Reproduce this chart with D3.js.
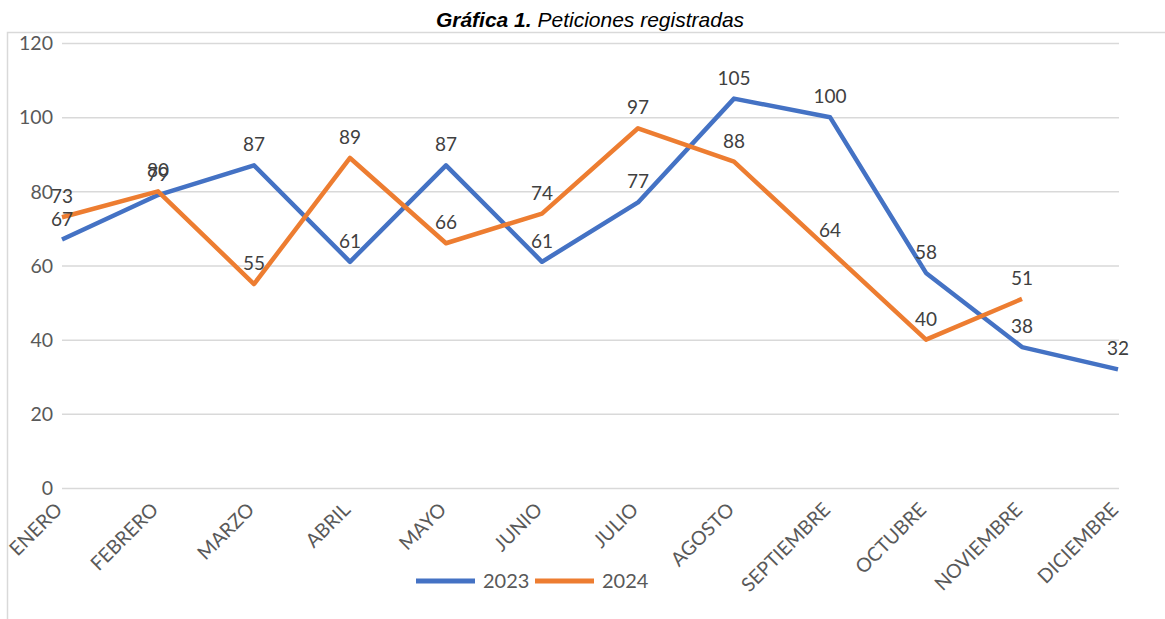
<!DOCTYPE html>
<html lang="es">
<head>
  <meta charset="UTF-8">
  <title>Gráfica 1. Peticiones registradas</title>
  <script src="https://d3js.org/d3.v7.min.js"></script>
  <style>
    body { margin: 0; background: #fff; }
    .grid line { stroke: #d9d9d9; stroke-width: 1.5; }
    .grid .domain { display: none; }
    .axis text { fill: #595959; font-family: Lato, "Liberation Sans", sans-serif; font-size: 19.5px; }
    .axis .domain, .axis line { display: none; }
    .line { fill: none; stroke-width: 4.5; stroke-linejoin: round; }
    .lbl { fill: #404040; font-family: Lato, sans-serif; font-size: 19px; text-anchor: middle; }
  </style>
</head>
<body>
  <svg width="1165" height="619"></svg>
  <script>
    const months = ['ENERO', 'FEBRERO', 'MARZO', 'ABRIL', 'MAYO', 'JUNIO', 'JULIO',
      'AGOSTO', 'SEPTIEMBRE', 'OCTUBRE', 'NOVIEMBRE', 'DICIEMBRE'];
    const v2023 = [67, 79, 87, 61, 87, 61, 77, 105, 100, 58, 38, 32];
    const v2024 = [73, 80, 55, 89, 66, 74, 97, 88, 64, 40, 51];
    const yTicks = [0, 20, 40, 60, 80, 100, 120];

    const series = [
      { name: '2023', color: '#4472C4', values: v2023 },
      { name: '2024', color: '#ED7D31', values: v2024 }
    ];

    const svg = d3.select('svg');

    // chart frame
    svg.append('path')
      .attr('d', 'M7.5,640 V32.5 H1170')
      .attr('fill', 'none')
      .attr('stroke', '#d9d9d9')
      .attr('stroke-width', 1.5);

    // title
    const title = svg.append('text')
      .attr('x', 590).attr('y', 27)
      .attr('text-anchor', 'middle')
      .style('font-family', '"Liberation Sans", Arial, sans-serif')
      .style('font-size', '21px')
      .style('font-style', 'italic');
    title.append('tspan').style('font-weight', 'bold').text('Gráfica 1.');
    title.append('tspan').text(' Peticiones registradas');

    const x = d3.scalePoint().domain(months).range([62, 1118]);
    const y = d3.scaleLinear().domain([0, 120]).range([488, 43]);

    // grid lines
    svg.append('g')
      .attr('class', 'grid')
      .attr('transform', 'translate(62,0)')
      .call(d3.axisRight(y).tickValues(yTicks).tickSize(1057).tickFormat(''));

    // y axis labels
    svg.append('g')
      .attr('class', 'axis')
      .attr('transform', 'translate(62,0)')
      .call(d3.axisLeft(y).tickValues(yTicks).tickSize(0).tickPadding(9))
      .selectAll('text').attr('dy', '0.35em');

    // x axis labels
    svg.append('g')
      .attr('class', 'axis')
      .attr('transform', 'translate(0,488)')
      .call(d3.axisBottom(x).tickSize(0))
      .selectAll('text')
      .attr('x', 0).attr('y', 0).attr('dy', 0)
      .attr('transform', 'translate(1,23) rotate(-45)')
      .style('text-anchor', 'end');

    const line = d3.line()
      .x((d, i) => x(months[i]))
      .y(d => y(d));

    series.forEach(s => {
      svg.append('path')
        .datum(s.values)
        .attr('class', 'line')
        .attr('stroke', s.color)
        .attr('d', line);
    });

    series.forEach(s => {
      svg.append('g').selectAll('text')
        .data(s.values)
        .enter().append('text')
        .attr('class', 'lbl')
        .attr('x', (d, i) => x(months[i]))
        .attr('y', d => y(d) - 14)
        .text(d => d);
    });

    // legend
    const legend = svg.append('g').attr('transform', 'translate(416,581)');
    series.forEach((s, i) => {
      const g = legend.append('g').attr('transform', `translate(${i * 119},0)`);
      g.append('line')
        .attr('x1', 0).attr('x2', 59)
        .attr('stroke', s.color).attr('stroke-width', 5);
      g.append('text')
        .attr('x', 67).attr('dy', '0.35em')
        .style('fill', '#595959')
        .style('font-family', 'Lato, sans-serif')
        .style('font-size', '20px')
        .text(s.name);
    });
  </script>
</body>
</html>
